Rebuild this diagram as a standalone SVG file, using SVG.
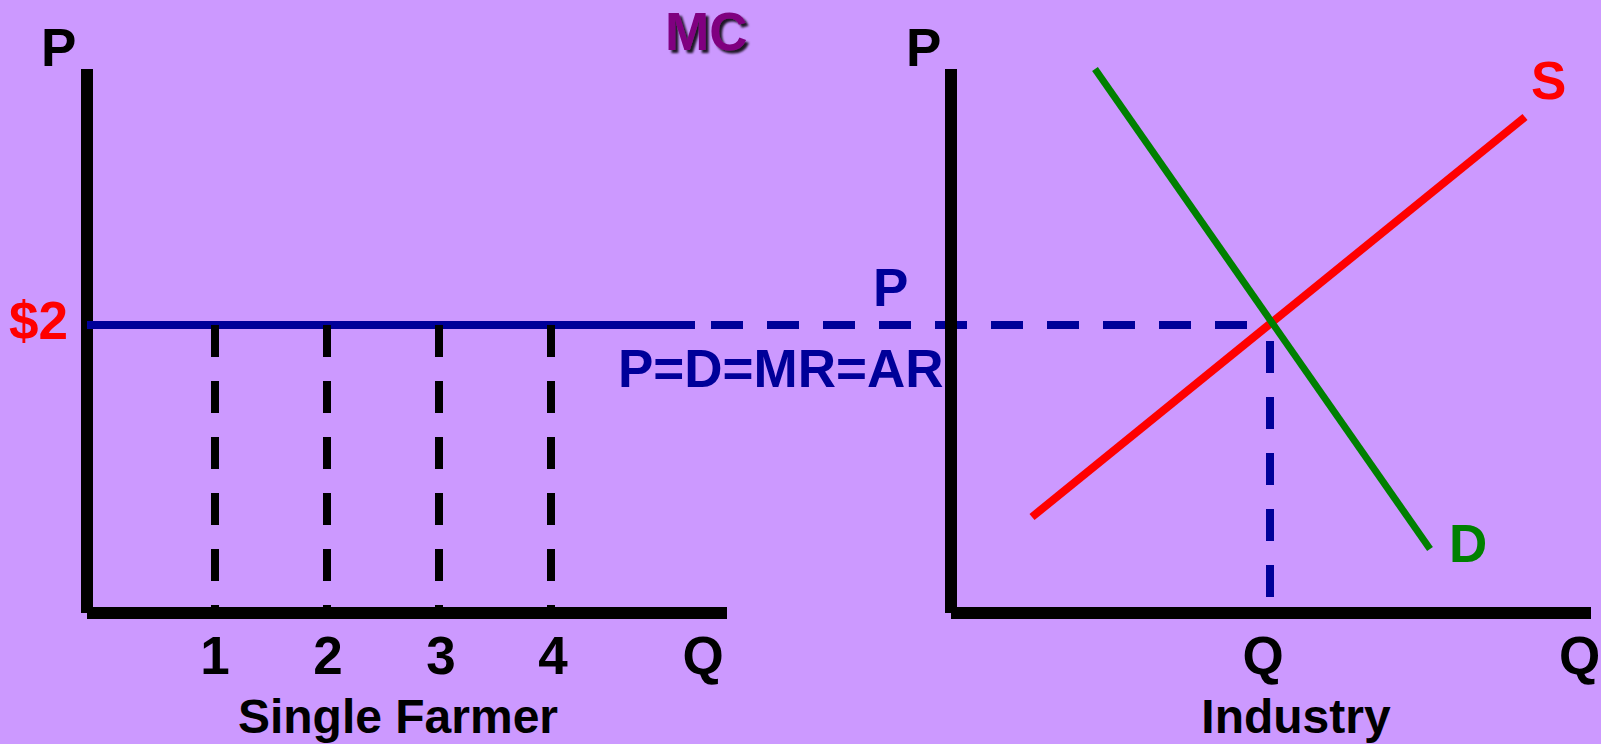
<svg xmlns="http://www.w3.org/2000/svg" width="1601" height="744" viewBox="0 0 1601 744">
<defs>
<style>
.lbl{font-family:"Liberation Sans",Arial,sans-serif;font-weight:bold;font-size:53px}
.cap{font-family:"Liberation Sans",Arial,sans-serif;font-weight:bold;font-size:48px;fill:#000}
.axis{stroke:#000;stroke-width:12;fill:none}
.tick{stroke:#000;stroke-width:8;stroke-dasharray:32 24}
.price{stroke:#000099;stroke-width:8}
.pdash{stroke:#000099;stroke-width:8;stroke-dasharray:32 24}
</style>
<filter id="shadow" x="-10%" y="-10%" width="130%" height="140%">
<feDropShadow dx="3" dy="3" stdDeviation="1" flood-color="#000" flood-opacity="0.85"/>
</filter>
</defs>
<rect x="0" y="0" width="1601" height="744" fill="#CC99FF"/>

<g id="farmer-graph">
<g id="farmer-axes">
<line class="axis" x1="87" y1="69" x2="87" y2="613"/>
<line class="axis" x1="87" y1="613" x2="727" y2="613"/>
</g>
<g id="farmer-price-line">
<line class="price" x1="87" y1="325" x2="695" y2="325"/>
</g>
<g id="farmer-quantity-dashes">
<line class="tick" x1="215" y1="325" x2="215" y2="607"/>
<line class="tick" x1="327" y1="325" x2="327" y2="607"/>
<line class="tick" x1="439" y1="325" x2="439" y2="607"/>
<line class="tick" x1="551" y1="325" x2="551" y2="607"/>
</g>
<g id="farmer-labels">
<text class="lbl" x="41" y="66" fill="#000">P</text>
<text class="lbl" x="9" y="339" fill="#FF0000">$2</text>
<text class="lbl" x="665" y="50" fill="#800080" filter="url(#shadow)">MC</text>
<text class="lbl" x="618" y="387" fill="#000099">P=D=MR=AR</text>
<text class="lbl" x="215" y="674" fill="#000" text-anchor="middle">1</text>
<text class="lbl" x="328" y="674" fill="#000" text-anchor="middle">2</text>
<text class="lbl" x="441" y="674" fill="#000" text-anchor="middle">3</text>
<text class="lbl" x="553" y="674" fill="#000" text-anchor="middle">4</text>
<text class="lbl" x="703" y="674" fill="#000" text-anchor="middle">Q</text>
<text class="cap" x="398" y="733" text-anchor="middle">Single Farmer</text>
</g>
</g>

<g id="connectors">
<line class="pdash" x1="711" y1="325" x2="1247" y2="325"/>
<line class="pdash" x1="1270" y1="341" x2="1270" y2="597"/>
</g>

<g id="industry-graph">
<g id="industry-axes">
<line class="axis" x1="951" y1="69" x2="951" y2="613"/>
<line class="axis" x1="951" y1="613" x2="1591" y2="613"/>
</g>
<g id="supply-curve">
<line x1="1032" y1="517" x2="1525" y2="117" stroke="#FF0000" stroke-width="8"/>
</g>
<g id="demand-curve">
<line x1="1095" y1="69" x2="1430" y2="549" stroke="#008000" stroke-width="7"/>
</g>
<g id="industry-labels">
<text class="lbl" x="906" y="66" fill="#000">P</text>
<text class="lbl" x="873" y="306" fill="#000099">P</text>
<text class="lbl" x="1531" y="99" fill="#FF0000">S</text>
<text class="lbl" x="1449" y="562" fill="#008000">D</text>
<text class="lbl" x="1263" y="674" fill="#000" text-anchor="middle">Q</text>
<text class="lbl" x="1559" y="674" fill="#000">Q</text>
<text class="cap" x="1296" y="733" text-anchor="middle">Industry</text>
</g>
</g>
</svg>
